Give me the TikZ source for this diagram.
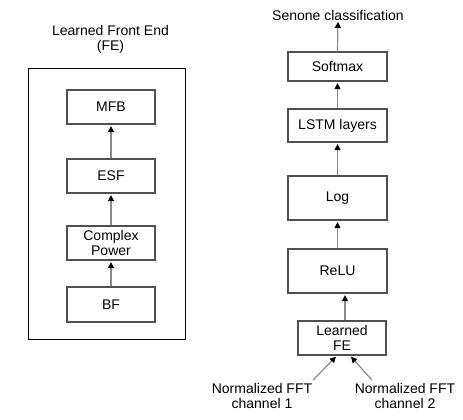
\documentclass[tikz,border=0pt]{standalone}
\usepackage{fontspec}
\setmainfont{Liberation Sans}
\usetikzlibrary{arrows.meta}
\definecolor{boxgray}{HTML}{505050}
\definecolor{arrgray}{HTML}{8A8A8A}
\begin{document}
\begin{tikzpicture}[x=1pt,y=-1pt,
  font=\fontsize{14}{15.5}\selectfont,
  box/.style={draw=boxgray, line width=1.3pt, inner sep=0pt, align=center},
  lbl/.style={align=center, inner sep=0pt},
  arr/.style={draw=arrgray, line width=1.2pt,
    -{Triangle[color=black,length=6pt,width=6pt]}, shorten >=1.5pt}]
\path[use as bounding box] (0,0) rectangle (463,420);
% left: learned front end
\node[lbl] (fetitle) at (110.5,39.5) {Learned Front End\\(FE)};
\node[draw=black, line width=0.9pt, minimum width=157pt, minimum height=271pt, inner sep=0pt] (fe) at (106.5,203.5) {};
\node[box, minimum width=88pt, minimum height=34pt] (mfb) at (111,107) {MFB};
\node[box, minimum width=88pt, minimum height=34pt] (esf) at (111,176) {ESF};
\node[box, minimum width=88pt, minimum height=34pt] (cp) at (111,243) {Complex\\Power};
\node[box, minimum width=88pt, minimum height=35pt] (bf) at (111,304.5) {BF};
\draw[arr] (bf) -- (cp);
\draw[arr] (cp) -- (esf);
\draw[arr] (esf) -- (mfb);
% right: network
\node[lbl] (senone) at (338,15) {Senone classification};
\node[box, minimum width=99pt, minimum height=29pt] (softmax) at (337.5,66.5) {Softmax};
\node[box, minimum width=99pt, minimum height=33pt] (lstm) at (337.5,125.5) {LSTM layers};
\node[box, minimum width=99pt, minimum height=44pt] (log) at (337.5,198) {Log};
\node[box, minimum width=99pt, minimum height=44pt] (relu) at (337.5,271) {ReLU};
\node[box, minimum width=88pt, minimum height=34pt] (lfe) at (342,338) {Learned\\FE};
\node[lbl] (ch1) at (262,396) {Normalized FFT\\channel 1};
\node[lbl] (ch2) at (405,396) {Normalized FFT\\channel 2};
\coordinate (t1) at (313,380);
\coordinate (t2) at (372,380);
\draw[arr] (softmax.north) -- (senone.south);
\draw[arr] (lstm) -- (softmax);
\draw[arr] (log) -- (lstm);
\draw[arr] (relu) -- (log);
\draw[arr] ([xshift=3pt]lfe.north) -- ([xshift=3pt]lfe.north |- relu.south);
\draw[arr] (t1) -- ([xshift=-5pt]lfe.south);
\draw[arr] (t2) -- ([xshift=8pt]lfe.south);
\end{tikzpicture}
\end{document}
